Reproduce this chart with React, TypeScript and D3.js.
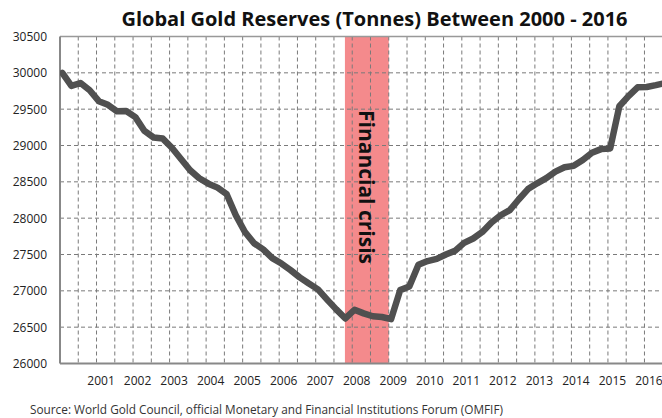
import React from "react";
import * as d3 from "d3";

const W = 662;
const H = 418;

const title = "Global Gold Reserves (Tonnes) Between 2000 - 2016";
const sourceText =
  "Source: World Gold Council, official Monetary and Financial Institutions Forum (OMFIF)";
const crisisLabel = "Financial crisis";

// Quarterly global gold reserves (tonnes), Q1 2000 onward
const reserves = [
  30000, 29820, 29860, 29760, 29610, 29560, 29470, 29475, 29390, 29200,
  29110, 29095, 28970, 28815, 28660, 28550, 28475, 28420, 28330, 28040,
  27810, 27655, 27570, 27450, 27375, 27285, 27185, 27100, 27020, 26880,
  26745, 26620, 26740, 26690, 26650, 26640, 26610, 27010, 27060, 27360,
  27410, 27440, 27500, 27550, 27660, 27720, 27810, 27940, 28040, 28110,
  28260, 28400, 28480, 28550, 28640, 28700, 28720, 28800, 28900, 28950,
  28960, 29540, 29680, 29800, 29805, 29830, 29860,
];

const yTicks = [26000, 26500, 27000, 27500, 28000, 28500, 29000, 29500, 30000, 30500];
const yearLabels = [2001, 2002, 2003, 2004, 2005, 2006, 2007, 2008, 2009, 2010, 2011, 2012, 2013, 2014, 2015, 2016];
const crisisSpan = [2007.8, 2009.0];

const FONT = "'Open Sans', 'DejaVu Sans', sans-serif";

export default function App() {
  const left = 60;
  const right = 662;
  const top = 36.5;
  const bottom = 363.5;

  const x = d3.scaleLinear().domain([2000, 2016.48]).range([left, right]);
  const y = d3.scaleLinear().domain([26000, 30500]).range([bottom, top]);

  const halfYears = d3.range(2000.5, 2016.01, 0.5);

  const line = d3
    .line<number>()
    .x((_, i) => x(2000 + (i + 0.25) / 4))
    .y((d) => y(d))
    .curve(d3.curveLinear);

  const bandX0 = x(crisisSpan[0]);
  const bandX1 = x(crisisSpan[1]);

  return (
    <div style={{ position: "absolute", left: 0, top: 0 }}>
      <svg width={W} height={H} style={{ display: "block", background: "#fff" }}>
        <defs>
          <clipPath id="plotClip">
            <rect x={left} y={top - 5} width={right - left} height={bottom - top + 10} />
          </clipPath>
        </defs>
        <rect x={0} y={0} width={W} height={H} fill="#fff" />
        <text
          x={374.5}
          y={26}
          textAnchor="middle"
          fontFamily={FONT}
          fontWeight="bold"
          fontSize={20}
          fill="#111"
        >
          {title}
        </text>

        {/* crisis band */}
        <rect x={bandX0} y={top} width={bandX1 - bandX0} height={bottom - top} fill="#f48a8c" />

        {/* horizontal gridlines */}
        {yTicks
          .filter((t) => t !== 26000 && t !== 30500)
          .map((t) => (
            <line
              key={"h" + t}
              x1={left}
              x2={right}
              y1={y(t)}
              y2={y(t)}
              stroke="#7a7a7a"
              strokeWidth={1}
              strokeDasharray="4,3"
            />
          ))}
        {/* vertical gridlines */}
        {halfYears.map((t) => (
          <line
            key={"v" + t}
            x1={x(t)}
            x2={x(t)}
            y1={top}
            y2={bottom}
            stroke="#7a7a7a"
            strokeWidth={1}
            strokeDasharray="4,3"
          />
        ))}

        {/* plot frame */}
        <line x1={left} x2={right} y1={top} y2={top} stroke="#999" strokeWidth={1.5} />
        <line x1={left} x2={left} y1={top} y2={bottom} stroke="#888" strokeWidth={2} />
        <line x1={left} x2={right} y1={bottom} y2={bottom} stroke="#888" strokeWidth={2} />

        {/* data line */}
        <g clipPath="url(#plotClip)">
          <path
            d={line(reserves) || ""}
            fill="none"
            stroke="#505050"
            strokeWidth={6.5}
            strokeLinejoin="round"
            strokeLinecap="round"
          />
        </g>

        {/* crisis label */}
        <text
          transform={`translate(${(bandX0 + bandX1) / 2},187) rotate(90)`}
          textAnchor="middle"
          dominantBaseline="central"
          fontFamily={FONT}
          fontWeight="bold"
          fontSize={21}
          fill="#111"
        >
          {crisisLabel}
        </text>

        {/* y tick labels */}
        {yTicks.map((t) => (
          <text
            key={"yl" + t}
            x={47}
            y={y(t) + 4.5}
            textAnchor="end"
            fontFamily={FONT}
            fontSize={12}
            fill="#222"
          >
            {t}
          </text>
        ))}

        {/* x labels */}
        {yearLabels.map((yr) => (
          <text
            key={"xl" + yr}
            x={x(yr) + 4.5}
            y={385}
            textAnchor="middle"
            fontFamily={FONT}
            fontSize={12}
            fill="#222"
          >
            {yr}
          </text>
        ))}

        <text x={30} y={414} fontFamily={FONT} fontSize={11.8} fill="#333">
          {sourceText}
        </text>
      </svg>
    </div>
  );
}
